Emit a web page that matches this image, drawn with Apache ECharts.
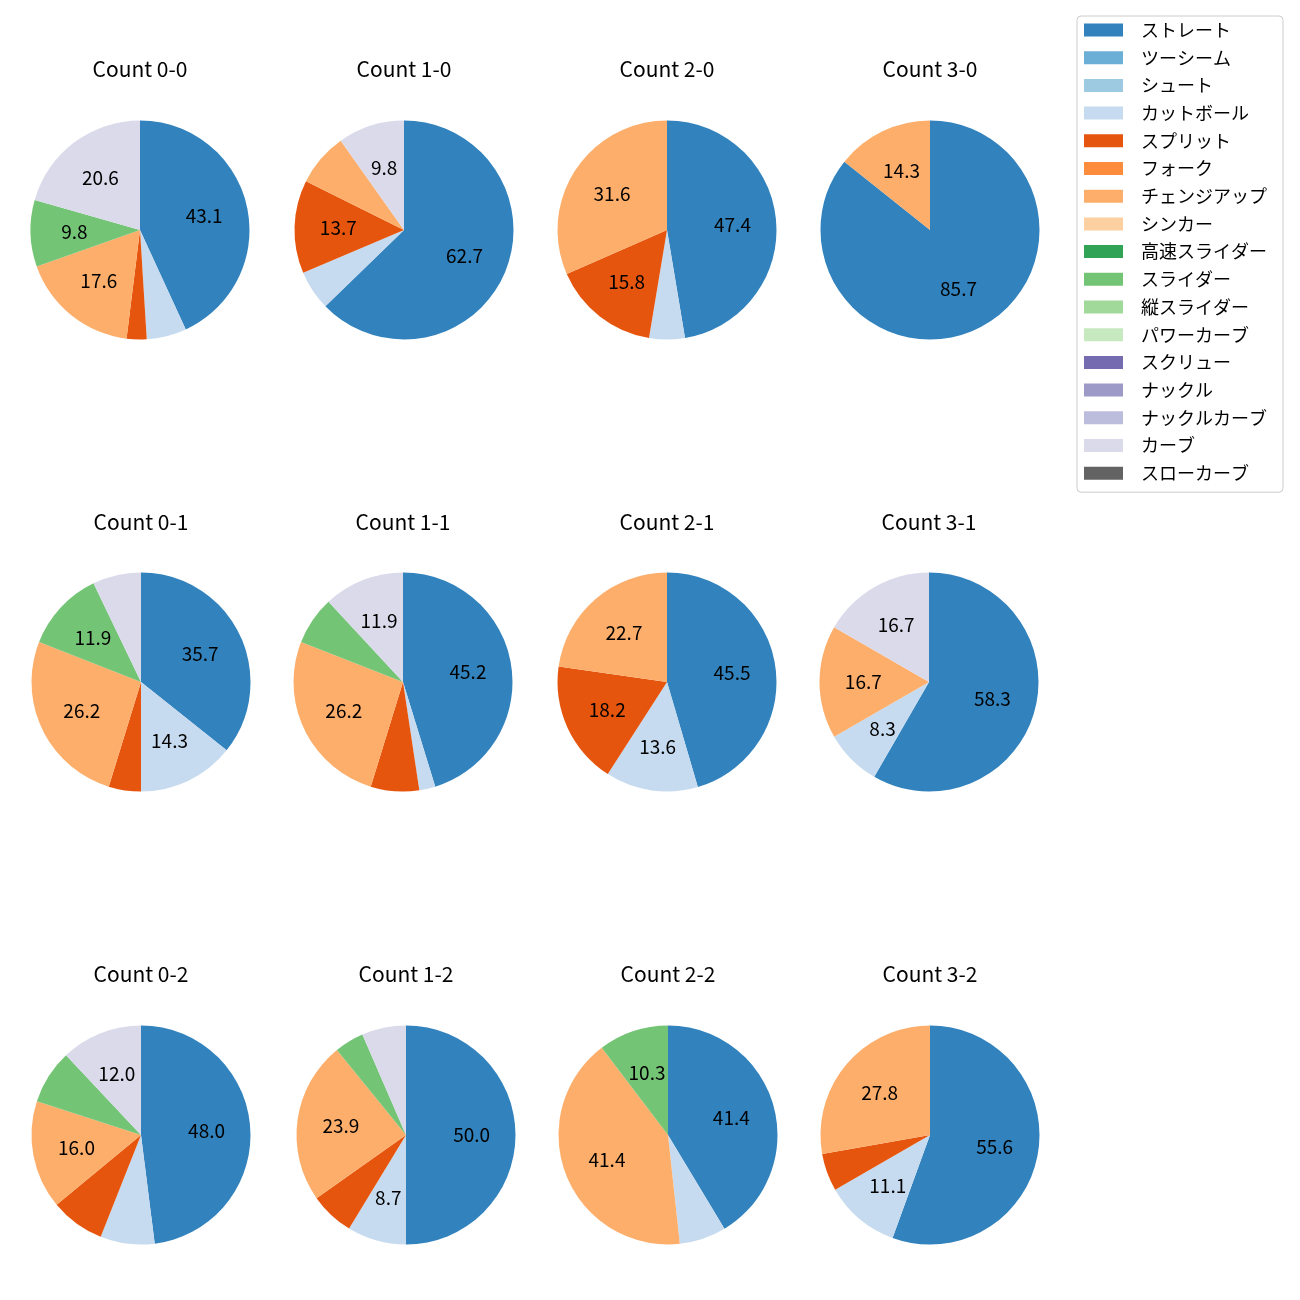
<!DOCTYPE html>
<html>
<head>
<meta charset="utf-8">
<script src="https://cdn.jsdelivr.net/npm/echarts@6/dist/echarts.min.js"></script>
<style>
html,body{margin:0;padding:0;background:#fff;}
#chart{width:1300px;height:1300px;}
</style>
</head>
<body>
<div id="chart"></div>
<script>
// Pitch types (legend order)
const pitchTypes = ['ストレート','ツーシーム','シュート','カットボール','スプリット','フォーク','チェンジアップ','シンカー','高速スライダー','スライダー','縦スライダー','パワーカーブ','スクリュー','ナックル','ナックルカーブ','カーブ','スローカーブ'];
const palette = ['#3182bd','#6baed6','#9ecae1','#c6dbef','#e6550d','#fd8d3c','#fdae6b','#fdd0a2','#31a354','#74c476','#a1d99b','#c7e9c0','#756bb1','#9e9ac8','#bcbddc','#dadaeb','#636363'];

// Panel titles
const countTitles = ['Count 0-0','Count 1-0','Count 2-0','Count 3-0',
                     'Count 0-1','Count 1-1','Count 2-1','Count 3-1',
                     'Count 0-2','Count 1-2','Count 2-2','Count 3-2'];

// Pitch counts per panel, in pitchTypes order
const c00 = [44,0,0,6,3,0,18,0,0,10,0,0,0,0,0,21,0];
const c10 = [32,0,0,3,7,0,4,0,0,0,0,0,0,0,0,5,0];
const c20 = [9,0,0,1,3,0,6,0,0,0,0,0,0,0,0,0,0];
const c30 = [6,0,0,0,0,0,1,0,0,0,0,0,0,0,0,0,0];
const c01 = [15,0,0,6,2,0,11,0,0,5,0,0,0,0,0,3,0];
const c11 = [19,0,0,1,3,0,11,0,0,3,0,0,0,0,0,5,0];
const c21 = [10,0,0,3,4,0,5,0,0,0,0,0,0,0,0,0,0];
const c31 = [7,0,0,1,0,0,2,0,0,0,0,0,0,0,0,2,0];
const c02 = [12,0,0,2,2,0,4,0,0,2,0,0,0,0,0,3,0];
const c12 = [23,0,0,4,3,0,11,0,0,2,0,0,0,0,0,3,0];
const c22 = [12,0,0,2,0,0,12,0,0,3,0,0,0,0,0,0,0];
const c32 = [10,0,0,2,1,0,5,0,0,0,0,0,0,0,0,0,0];
const panels = [c00,c10,c20,c30,c01,c11,c21,c31,c02,c12,c22,c32];

// Layout (pixels)
const centersX = [[140,404,667,930],[141,403,667,929],[141,406,668,930]];
const centersY = [230,682,1135];
const titleTop = [59,512,964];
const R = 109.5;
const FONT = '"Noto Sans CJK JP", "Noto Sans", sans-serif';
// label ring so that ECharts' inside label (mid-radius + 3px) lands at 0.6 R
const LABEL_R0 = 0.2 * R - 6;

const titles = [];
const pieSeries = [];
const labelSeries = [];
panels.forEach(function(vals, i){
  const row = Math.floor(i/4), col = i%4;
  const cx = centersX[row][col], cy = centersY[row];
  const total = vals.reduce(function(a,b){return a+b;},0);
  const data = pitchTypes.map(function(n,k){
    return {name:n, value:vals[k], itemStyle:{color:palette[k]}};
  });
  titles.push({
    text: countTitles[i], left: cx, top: titleTop[row], textAlign:'center', padding:0,
    textStyle:{fontFamily:FONT, fontSize:21, lineHeight:20, fontWeight:'normal', color:'#000'}
  });
  pieSeries.push({
    type:'pie', center:[cx,cy], radius:[0,R], startAngle:90, clockwise:true,
    data: data, label:{show:false}, labelLine:{show:false},
    itemStyle:{borderWidth:0}, emphasis:{disabled:true}, animation:false
  });
  labelSeries.push({
    type:'pie', center:[cx,cy], radius:[LABEL_R0,R], startAngle:90, clockwise:true,
    data: data.map(function(d){return {name:d.name, value:d.value, itemStyle:{color:'rgba(0,0,0,0)'}};}),
    avoidLabelOverlap:false, silent:true, legendHoverLink:false,
    label:{show:true, position:'inside', fontFamily:FONT, fontSize:19, color:'#000', padding:[0,0,5,0],
      formatter:function(p){ const pct = p.value/total*100; return pct > 8 ? pct.toFixed(1) : ''; }},
    labelLine:{show:false}, itemStyle:{borderWidth:0}, emphasis:{disabled:true}, animation:false
  });
});

const chart = echarts.init(document.getElementById('chart'), null, {renderer:'canvas'});
chart.setOption({
  backgroundColor:'#fff',
  animation:false,
  title: titles,
  legend: {
    data: pitchTypes, orient:'vertical', left:1077, top:16,
    padding:[5,16,10,7], itemWidth:39, itemHeight:13, itemGap:9.7,
    icon:'rect', borderColor:'#cccccc', borderWidth:1, borderRadius:4,
    textStyle:{fontFamily:FONT, fontSize:18, color:'#000', lineHeight:18, padding:[0,0,0,13]},
    selectedMode:false
  },
  series: pieSeries.concat(labelSeries)
});
</script>
</body>
</html>
